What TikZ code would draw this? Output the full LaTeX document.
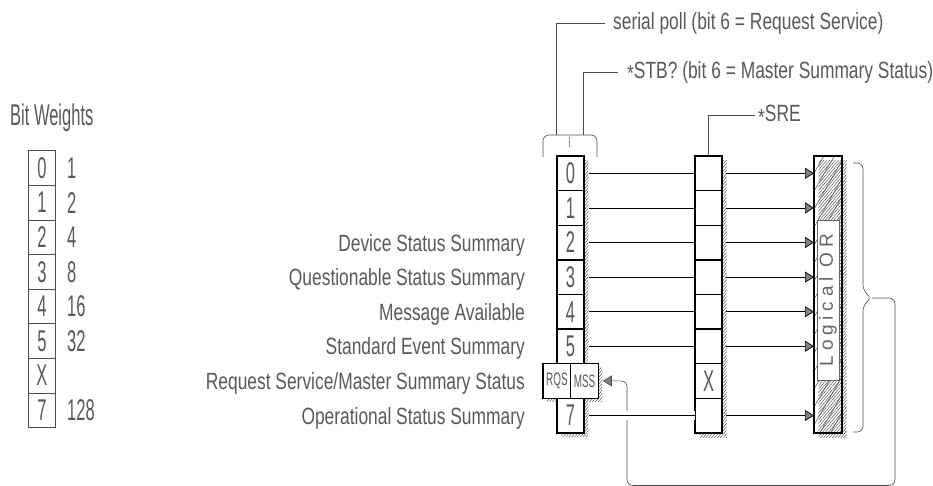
\documentclass[tikz,border=0pt]{standalone}
\usepackage{fontspec}
\setmainfont{Liberation Sans}
\newfontfamily\cadfont[FakeStretch=0.74]{Liberation Sans}
\newfontfamily\cadnarrow[FakeStretch=0.55]{Liberation Sans}
\newcommand{\bitfont}{\cadnarrow\fontsize{30}{32}\selectfont}
\newcommand{\lblfont}{\cadfont\fontsize{23.5}{26}\selectfont}
\newcommand{\tagfont}{\cadnarrow\fontsize{18}{20}\selectfont}
\usetikzlibrary{arrows.meta, patterns.meta}

\begin{document}
\begin{tikzpicture}[x=1pt,y=-1pt,
    cell/.style={draw, line width=1.4pt, fill=white, minimum width=27pt, minimum height=34.6pt,
      inner sep=0pt, outer sep=0pt, font=\bitfont, text=black!65},
    wcell/.style={cell, line width=0.7pt, draw=black!70},
    lbl/.style={font=\lblfont, text=black!65, inner sep=0pt},
    shade/.style={pattern={Lines[angle=50,distance=2.2pt,line width=0.45pt]}, pattern color=black!70},
    tip/.style={-{Triangle[length=9pt,width=11pt,fill=black!50]}},
    sig/.style={line width=0.7pt, tip},
    lead/.style={draw=black!70, line width=0.6pt},
  ]
  \useasboundingbox (0,0) rectangle (933,485);
  % rows: top at 156, height 34.6
  \def\rowh{34.6}
  \def\regtop{156}

  % Bit weights table
  \node[font=\bitfont, text=black!65, anchor=base west, inner sep=0pt] (bw) at (10,125) {Bit Weights};
  \foreach \i/\w in {0/1,1/2,2/4,3/8,4/16,5/32,7/128} {
    \node[wcell] (b\i) at (42,{150.7+\rowh*(\i+0.5)}) {\i};
    \node[font=\bitfont, text=black!65, anchor=west, inner sep=0pt] (w\i) at (67,{150.7+\rowh*(\i+0.5)}) {\w};
  }
  \node[wcell] (b6) at (42,{150.7+\rowh*6.5}) {X};

  % shadows
  \begin{scope}[shift={(4.5,4)}]
    \fill[shade] (557,156) -- (584,156) -- (584,363.6) -- (598,363.6) -- (598,398.2) -- (584,398.2)
      -- (584,433) -- (557,433) -- (557,398.2) -- (542.7,398.2) -- (542.7,363.6) -- (557,363.6) -- cycle;
    \fill[shade] (695,156) rectangle (722,433);
    \fill[shade] (814,156) rectangle (842,433);
  \end{scope}

  % status byte and enable register cells
  \foreach \i in {0,1,2,3,4,5,7} {
    \node[cell] (m\i) at (570.5,{\regtop+\rowh*(\i+0.5)}) {\i};
    \node[cell] (s\i) at (708.5,{\regtop+\rowh*(\i+0.5)}) {};
  }
  \node[cell, font=\tagfont, minimum width=27.6pt] (rqs) at (556.9,{\regtop+\rowh*6.5}) {RQS};
  \node[cell, font=\tagfont, minimum width=27.6pt] (mss) at (584.5,{\regtop+\rowh*6.5}) {MSS};
  \node[cell] (s6) at (708.5,{\regtop+\rowh*6.5}) {X};

  % summary OR
  \node[draw, line width=1.4pt, outer sep=0pt, minimum width=28pt, minimum height=277pt,
    pattern={Lines[angle=60,distance=9pt,line width=0.5pt]}, pattern color=black!70] (orbox) at (828,294.5) {};
  \node[draw=black!60, line width=0.6pt, fill=white, rotate=90, minimum width=160pt, minimum height=22pt,
    inner sep=0pt, text=black!60, font=\fontsize{19}{20}\selectfont\addfontfeature{LetterSpace=25}] (lor) at (828,300) {Logical OR};

  % bit labels
  \node[lbl, anchor=base east] (l2) at (525,{\regtop+\rowh*2.5+8.5}) {Device Status Summary};
  \node[lbl, anchor=base east] (l3) at (525,{\regtop+\rowh*3.5+8.5}) {Questionable Status Summary};
  \node[lbl, anchor=base east] (l4) at (525,{\regtop+\rowh*4.5+8.5}) {Message Available};
  \node[lbl, anchor=base east] (l5) at (525,{\regtop+\rowh*5.5+8.5}) {Standard Event Summary};
  \node[lbl, anchor=base east] (l6) at (525,{\regtop+\rowh*6.5+8.5}) {Request Service/Master Summary Status};
  \node[lbl, anchor=base east] (l7) at (525,{\regtop+\rowh*7.5+8.5}) {Operational Status Summary};

  % read-out leaders
  \draw[lead, rounded corners=6pt] (543,157) -- (543,135) -- (597,135) -- (597,157);
  \draw[lead, black!45, line width=1pt] (569,137) -- (569,147);
  \coordinate (sptap) at (556,135);
  \coordinate (stbtap) at (583,135);
  \node[lbl, anchor=west, inner xsep=8pt] (sp) at (605,23.3) {serial poll (bit 6 = Request Service)};
  \node[lbl, anchor=west, inner xsep=9pt] (stb) at (618,72) {\raisebox{-0.3ex}{*}STB? (bit 6 = Master Summary Status)};
  \node[lbl, anchor=west, inner xsep=3pt] (sre) at (755,115) {\raisebox{-0.3ex}{*}SRE};
  \draw[lead] (sptap) |- (sp.west);
  \draw[lead] (stbtap) |- (stb.west);
  \draw[lead] (s0.north) |- (sre.west);

  % brace and feedback to MSS
  \draw[lead, rounded corners=6pt] (853,163) -- (863,163) -- (863,291) -- (872,298) -- (863,305) -- (863,432) -- (853,432);
  \coordinate (ortip) at (872,298);
  \draw[lead, rounded corners=6pt, tip]
    (ortip) -- (895,298) -- (895,485.5) -- (627,485.5) -- (627,{\regtop+\rowh*6.5}) -- ([xshift=4.5pt]mss.east);

  % bit lines
  \foreach \i in {0,1,2,3,4,5} {
    \draw[line width=0.7pt] ([xshift=4.5pt]m\i.east) -- (s\i.west);
  }
  \draw[line width=0.7pt, preaction={draw=white, line width=9pt}] ([xshift=4.5pt]m7.east) -- (s7.west);
  \foreach \i in {0,1,2,3,4,5,7} {
    \draw[sig] ([xshift=4pt]s\i.east) -- (orbox.west |- s\i.east);
  }
\end{tikzpicture}
\end{document}
